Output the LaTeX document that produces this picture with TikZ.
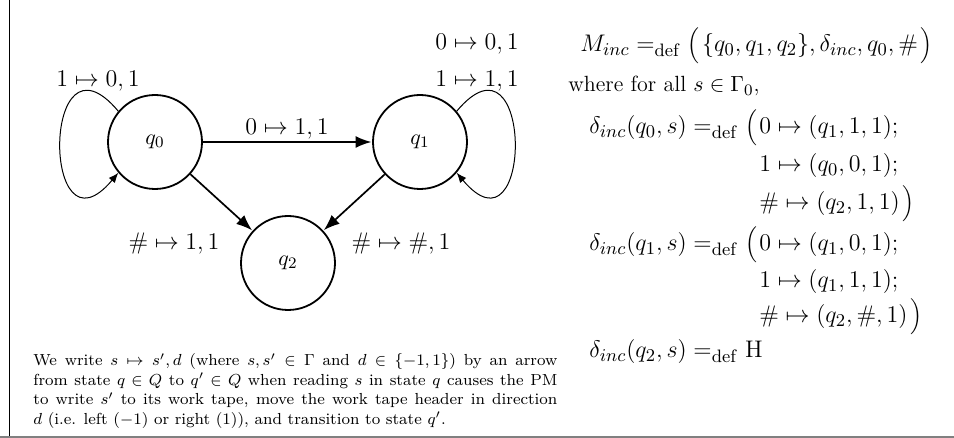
\documentclass[tikz,border=0pt]{standalone}
\usetikzlibrary{arrows.meta}
\newcommand{\dfeq}{=_{\mathrm{def}}}
\newcommand{\bigo}{\mathopen{\nulldelimiterspace=0pt\left(\vrule height 11.3pt depth 4.7pt width 0pt\right.}}
\newcommand{\bigc}{\mathclose{\nulldelimiterspace=0pt\left.\vrule height 11.3pt depth 4.7pt width 0pt\right)}}
\begin{document}
\begin{tikzpicture}[x=0.5pt,y=-0.5pt,
  state/.style={circle, draw, line width=0.9pt, minimum size=47pt, inner sep=0pt, font=\fontsize{11}{13}\selectfont},
  edge/.style={line width=0.85pt, -{Latex[length=8pt,width=6pt]}, shorten >=0.3pt},
  loopedge/.style={line width=0.5pt, -{Latex[length=5pt,width=4pt]}},
  lbl/.style={anchor=base, inner sep=0pt, font=\fontsize{12}{14}\selectfont},
  txt/.style={anchor=base west, inner sep=0pt, font=\fontsize{13.2}{15}\selectfont}]
\useasboundingbox (0,0) rectangle (954,438);
\draw[line width=0.75pt] (9.5,0) -- (9.5,436);
\draw[gray, line width=1pt] (0,437) -- (954,437);

\node[state] (q0) at (155,142) {$q_0$};
\node[state] (q1) at (420,142) {$q_1$};
\node[state] (q2) at (288,263) {$q_2$};

\draw[edge] (q0) -- (q1);
\draw[edge] (q0) -- (q2);
\draw[edge] (q1) -- (q2);
\draw[loopedge] (q0.140) .. controls +(130:60pt) and +(230:60pt) .. (q0.220);
\draw[loopedge] (q1.40) .. controls +(50:60pt) and +(-50:60pt) .. (q1.320);

\node[lbl] (l01) at (98,87) {$1 \mapsto 0, 1$};
\node[lbl] (l11a) at (477,50) {$0 \mapsto 0, 1$};
\node[lbl] (l11b) at (477,87) {$1 \mapsto 1, 1$};
\node[lbl] (l0q1) at (287,135) {$0 \mapsto 1, 1$};
\node[lbl] (l0q2) at (174,250) {$\# \mapsto 1, 1$};
\node[lbl] (l1q2) at (401,250) {$\# \mapsto \#, 1$};

\node[txt] (m) at (580,52) {$M_{inc} \dfeq \bigo\{q_0, q_1, q_2\}, \delta_{inc}, q_0, \#\bigc$};
\node[txt, font=\fontsize{11}{13}\selectfont] (w) at (568,92) {where for all $s \in \Gamma_0$,};
\node[txt] (d0) at (589,134) {$\delta_{inc}(q_0, s) \dfeq \bigo 0 \mapsto (q_1, 1, 1);$};
\node[txt] (d0b) at (589,172) {$\phantom{\delta_{inc}(q_0, s) \dfeq \bigo}1 \mapsto (q_0, 0, 1);$};
\node[txt] (d0c) at (589,210) {$\phantom{\delta_{inc}(q_0, s) \dfeq \bigo}\# \mapsto (q_2, 1, 1)\bigc$};
\node[txt] (d1) at (589,251) {$\delta_{inc}(q_1, s) \dfeq \bigo 0 \mapsto (q_1, 0, 1);$};
\node[txt] (d1b) at (589,288) {$\phantom{\delta_{inc}(q_1, s) \dfeq \bigo}1 \mapsto (q_1, 1, 1);$};
\node[txt] (d1c) at (589,323) {$\phantom{\delta_{inc}(q_1, s) \dfeq \bigo}\# \mapsto (q_2, \#, 1)\bigc$};
\node[txt] (d2) at (589,358) {$\delta_{inc}(q_2, s) \dfeq \mathrm{H}$};

\node[anchor=north west, inner sep=0pt, font=\fontsize{8}{9.75}\selectfont, text width=262pt, align=justify] (note) at (33,353)
{We write $s \mapsto s', d$ (where $s, s' \in \Gamma$ and $d \in \{-1, 1\}$) by an arrow\linebreak
from state $q \in Q$ to $q' \in Q$ when reading $s$ in state $q$ causes the PM\linebreak
to write $s'$ to its work tape, move the work tape header in direction\linebreak
$d$ (i.e. left $(-1)$ or right $(1)$), and transition to state $q'$.};
\end{tikzpicture}
\end{document}
